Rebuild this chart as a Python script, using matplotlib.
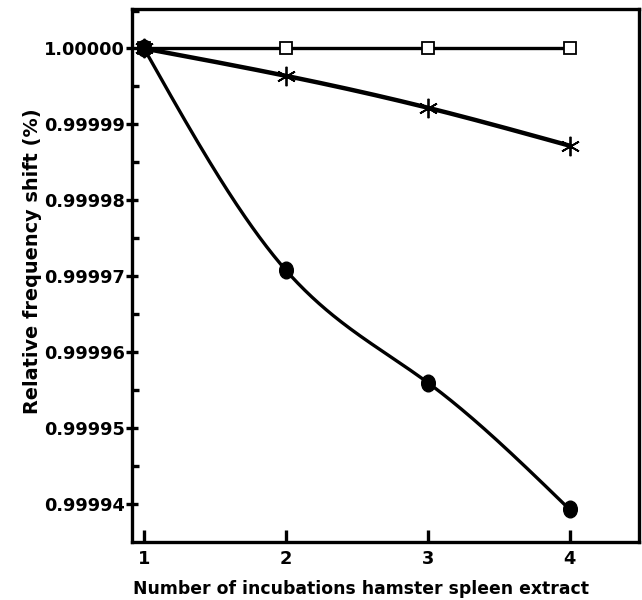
import numpy as np
import matplotlib
matplotlib.use("Agg")
import matplotlib.pyplot as plt
from matplotlib.ticker import FixedLocator, FormatStrFormatter
from matplotlib.path import Path

incubations = [1, 2, 3, 4]
control = [1.00000, 1.00000, 1.00000, 1.00000]
asterisk_series = [1.00000, 0.9999964, 0.9999922, 0.9999872]
circle_series = [1.00000, 0.9999708, 0.9999560, 0.9999393]
ytick_values = [1.00000, 0.99999, 0.99998, 0.99997, 0.99996, 0.99995, 0.99994]
xtick_values = [1, 2, 3, 4]


def natural_spline(x, y, n=300):
    x = np.asarray(x, float)
    y0 = y[0]
    y = np.asarray(y, float) - y0
    k = len(x)
    h = np.diff(x)
    A = np.zeros((k, k))
    b = np.zeros(k)
    A[0, 0] = A[-1, -1] = 1
    for i in range(1, k - 1):
        A[i, i - 1] = h[i - 1]
        A[i, i] = 2 * (h[i - 1] + h[i])
        A[i, i + 1] = h[i]
        b[i] = 3 * ((y[i + 1] - y[i]) / h[i] - (y[i] - y[i - 1]) / h[i - 1])
    c = np.linalg.solve(A, b)
    xs = np.linspace(x[0], x[-1], n)
    ys = np.empty_like(xs)
    for j, xv in enumerate(xs):
        i = int(np.clip(np.searchsorted(x, xv, side="right") - 1, 0, k - 2))
        bi = (y[i + 1] - y[i]) / h[i] - h[i] * (2 * c[i] + c[i + 1]) / 3
        di = (c[i + 1] - c[i]) / (3 * h[i])
        t = xv - x[i]
        ys[j] = y[i] + bi * t + c[i] * t ** 2 + di * t ** 3
    return xs, ys + y0


plt.rcParams['font.family'] = ['DejaVu Sans']
plt.rcParams['font.weight'] = 'bold'

fig = plt.figure(figsize=(6.42, 6.0), dpi=100)
ax = fig.add_axes([132 / 642, 58 / 600, 507 / 642, 533 / 600])

# oval filled marker
circ = Path.unit_circle()
oval = Path(circ.vertices * np.array([1.0, 1.22]), circ.codes)

# control line (squares)
ax.plot(incubations, control, color='black', lw=2.4, zorder=2)
ax.plot(incubations, control, ls='none', marker='s', ms=8.5, mfc='white',
        mec='black', mew=1.3, zorder=4)

# asterisk line
xs, ys = natural_spline(incubations, asterisk_series)
ax.plot(xs, ys, color='black', lw=3.2, zorder=2)
ax.plot(incubations, asterisk_series, ls='none', marker=(6, 2, 0), ms=14,
        mec='black', mew=1.3, zorder=4)

# circle line
xs, ys = natural_spline(incubations, circle_series)
ax.plot(xs, ys, color='black', lw=2.4, zorder=2)
ax.plot(incubations, circle_series, ls='none', marker=oval, ms=12,
        mfc='black', mec='black', zorder=4)

ax.set_xlim(0.915, 4.49)
ax.set_ylim(0.999935, 1.0000052)

ax.xaxis.set_major_locator(FixedLocator(xtick_values))
ax.yaxis.set_major_locator(FixedLocator(ytick_values))
minor = [v + 0.000005 for v in ytick_values]
ax.yaxis.set_minor_locator(FixedLocator(minor))
ax.yaxis.set_major_formatter(FormatStrFormatter('%.5f'))

for s in ax.spines.values():
    s.set_linewidth(2.4)

ax.tick_params(axis='y', which='major', direction='inout', length=8, width=2.4,
               labelsize=12.8, pad=1)
ax.tick_params(axis='y', which='minor', direction='in', length=5, width=2.4)
ax.tick_params(axis='x', which='major', direction='in', length=9, width=2.4,
               labelsize=12.8, pad=6)
for lab in ax.get_xticklabels() + ax.get_yticklabels():
    lab.set_fontweight('bold')

ax.set_ylabel('Relative frequency shift (%)', fontsize=13.9, fontweight='bold')
ax.yaxis.set_label_coords(-0.1775, 0.527)
ax.set_xlabel('Number of incubations hamster spleen extract', fontsize=12.4,
              fontweight='bold')
ax.xaxis.set_label_coords(0.4517, -0.0713)

fig.savefig('out.png', dpi=100)
